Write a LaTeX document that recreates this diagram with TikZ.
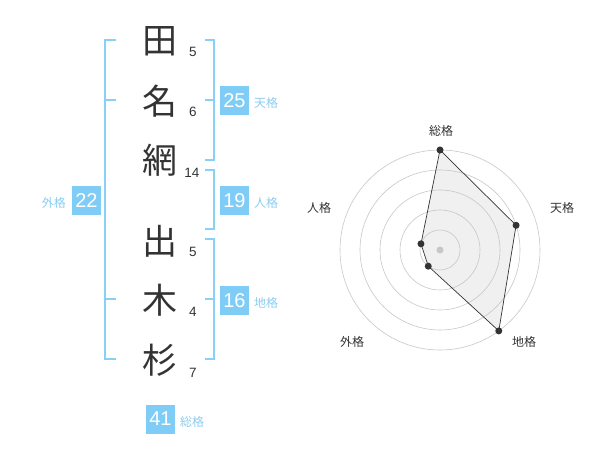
\documentclass[tikz,border=0pt]{standalone}
\usepackage{fontspec}
\usetikzlibrary{calc}
\setmainfont{Liberation Sans}
\newfontfamily\cjk{Noto Sans CJK JP}
\definecolor{kblue}{RGB}{127,204,247}
\definecolor{kline}{RGB}{137,208,247}
\definecolor{klabel}{RGB}{140,205,240}
\definecolor{ktext}{RGB}{51,51,51}
\begin{document}
\begin{tikzpicture}[x=1pt,y=-1pt,
  kanji/.style={font=\cjk\fontsize{35}{35}\selectfont, text=ktext, inner sep=0pt},
  stroke/.style={font=\fontsize{13.5}{13.5}\selectfont, text=ktext, inner sep=0pt},
  numbox/.style={fill=kblue, text=white, minimum width=29pt, minimum height=29pt, inner sep=0pt, font=\fontsize{20}{20}\selectfont},
  klab/.style={font=\cjk\fontsize{12}{12}\selectfont, text=klabel, inner sep=0pt},
  brk/.style={draw=kline, line width=2pt},
  ring/.style={draw=black!22, line width=0.6pt},
  axlab/.style={font=\cjk\fontsize{12}{12}\selectfont, text=ktext, inner sep=0pt},
  pt/.style={circle, fill=ktext, inner sep=0pt, minimum size=7pt}]
\useasboundingbox (0,0) rectangle (600,470);
% kanji
\node[kanji] (k1) at (160,41) {田};
\node[kanji] (k2) at (160,101) {名};
\node[kanji] (k3) at (160,160) {網};
\node[kanji] (k4) at (160,241) {出};
\node[kanji] (k5) at (160,300) {木};
\node[kanji] (k6) at (160,360) {杉};
% stroke counts
\node[stroke] (s1) at (193,52) {5};
\node[stroke] (s2) at (193,112) {6};
\node[stroke] (s3) at (192,173) {14};
\node[stroke] (s4) at (193,252) {5};
\node[stroke] (s5) at (193,312) {4};
\node[stroke] (s6) at (193,373) {7};
% left bracket (gaikaku)
\draw[brk] (116,40) -- (105,40) -- (105,359) -- (116,359);
\draw[brk] (105,100) -- (116,100);
\draw[brk] (105,299) -- (116,299);
% right brackets
\draw[brk] (205,40) -- (214,40) -- (214,160) -- (205,160);
\draw[brk] (205,100) -- (214,100);
\draw[brk] (205,170) -- (214,170) -- (214,229) -- (205,229);
\draw[brk] (205,239) -- (214,239) -- (214,359) -- (205,359);
\draw[brk] (205,299) -- (214,299);
% boxes
\node[numbox] (b25) at (234.5,100.5) {25};
\node[klab, anchor=west] (l25) at (254,103) {天格};
\node[numbox] (b19) at (234.5,200.5) {19};
\node[klab, anchor=west] (l19) at (254,203) {人格};
\node[numbox] (b16) at (234.5,300.5) {16};
\node[klab, anchor=west] (l16) at (254,303) {地格};
\node[numbox] (b22) at (86.5,200.5) {22};
\node[klab, anchor=east] (l22) at (66,203) {外格};
\node[numbox] (b41) at (160.5,419) {41};
\node[klab, anchor=west] (l41) at (180,422) {総格};
% radar
\coordinate (c) at (440,250);
\coordinate (p1) at ($(c)+(-90:100)$);
\coordinate (p2) at ($(c)+(-18:80)$);
\coordinate (p3) at ($(c)+(54:100)$);
\coordinate (p4) at ($(c)+(126:20)$);
\coordinate (p5) at ($(c)+(198:20)$);
\fill[black!6] (p1) -- (p2) -- (p3) -- (p4) -- (p5) -- cycle;
\foreach \r in {20,40,60,80,100} \draw[ring] (c) circle[radius=\r];
\draw[ktext, line width=0.7pt] (p1) -- (p2) -- (p3) -- (p4) -- (p5) -- cycle;
\fill[black!22] (c) circle[radius=3.5];
\foreach \p in {p1,p2,p3,p4,p5} \node[pt] at (\p) {};
\node[axlab] (a1) at (441,131) {総格};
\node[axlab] (a2) at (562,208) {天格};
\node[axlab] (a3) at (524,342) {地格};
\node[axlab] (a4) at (352,342) {外格};
\node[axlab] (a5) at (319,208) {人格};
\end{tikzpicture}
\end{document}
